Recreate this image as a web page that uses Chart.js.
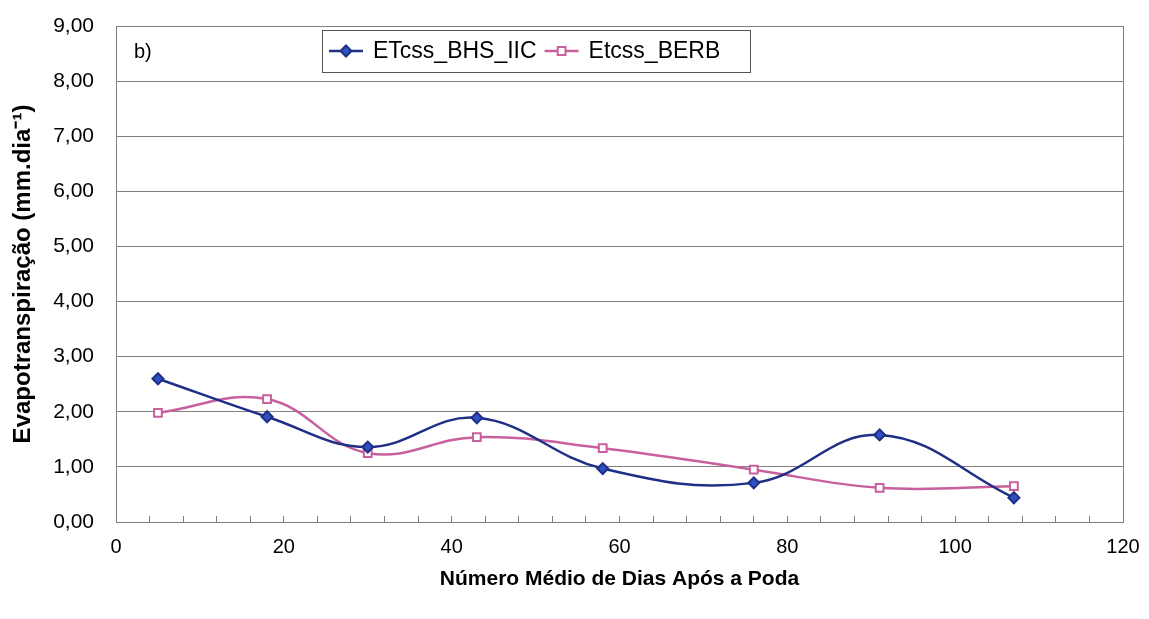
<!DOCTYPE html>
<html>
<head>
<meta charset="utf-8">
<title>Evapotranspiração</title>
<script src="https://cdn.jsdelivr.net/npm/chart.js@4.4.1/dist/chart.umd.min.js"></script>
<style>
  body { margin: 0; background: #fff; }
  #wrap { width: 1149px; height: 619px; }
</style>
</head>
<body>
<div id="wrap"><canvas id="etChart" width="1149" height="619"></canvas></div>
<script>
// dias apos a poda (eixo x) e ETcss de cada metodo (mm/dia)
const dias = [5, 18, 30, 43, 58, 76, 91, 107];
const etcssBhsIic = [2.60, 1.91, 1.36, 1.89, 0.97, 0.71, 1.58, 0.44];
const etcssBerb = [1.98, 2.23, 1.25, 1.54, 1.34, 0.95, 0.62, 0.65];
const seriesNames = ["ETcss_BHS_IIC", "Etcss_BERB"];
const xTickLabels = ["0", "20", "40", "60", "80", "100", "120"];
const yTickLabels = ["0,00", "1,00", "2,00", "3,00", "4,00", "5,00", "6,00", "7,00", "8,00", "9,00"];

const FONT = "'Liberation Sans', Arial, sans-serif";

function toPoints(xs, ys) {
  return xs.map((x, i) => ({ x: x, y: ys[i] }));
}

// moldura da area do grafico (topo e direita incluidos)
const plotBorder = {
  id: "plotBorder",
  beforeDatasetsDraw(chart) {
    const a = chart.chartArea;
    const ctx = chart.ctx;
    ctx.save();
    ctx.strokeStyle = "#808080";
    ctx.lineWidth = 1;
    ctx.strokeRect(Math.round(a.left) + 0.5, Math.round(a.top) + 0.5,
      Math.round(a.right - a.left), Math.round(a.bottom - a.top));
    ctx.restore();
  }
};

// legenda com caixa, dentro da area do grafico, e o rotulo "b)"
const boxLegend = {
  id: "boxLegend",
  afterDraw(chart) {
    const ctx = chart.ctx;
    const a = chart.chartArea;
    ctx.save();
    ctx.fillStyle = "#000";
    ctx.font = "20px " + FONT;
    ctx.textBaseline = "middle";
    ctx.fillText("b)", a.left + 18, a.top + 26);

    const bx = 322, by = 30, bw = 428, bh = 42;
    ctx.fillStyle = "#fff";
    ctx.fillRect(bx, by, bw, bh);
    ctx.strokeStyle = "#555";
    ctx.lineWidth = 1;
    ctx.strokeRect(bx + 0.5, by + 0.5, bw, bh);

    ctx.font = "23px " + FONT;
    let x = bx + 7;
    const cy = by + bh / 2;
    chart.data.datasets.forEach(ds => {
      ctx.strokeStyle = ds.borderColor;
      ctx.lineWidth = ds.borderWidth;
      ctx.beginPath();
      ctx.moveTo(x, cy);
      ctx.lineTo(x + 34, cy);
      ctx.stroke();
      ctx.fillStyle = ds.pointBackgroundColor;
      ctx.strokeStyle = ds.pointBorderColor;
      ctx.lineWidth = ds.pointBorderWidth;
      Chart.helpers.drawPoint(ctx, {
        pointStyle: ds.pointStyle, radius: ds.pointRadius, borderWidth: ds.pointBorderWidth, rotation: 0
      }, x + 17, cy);
      ctx.fillStyle = "#000";
      ctx.fillText(ds.label, x + 44, cy + 1);
      x += 44 + ctx.measureText(ds.label).width + 8;
    });
    ctx.restore();
  }
};

new Chart(document.getElementById("etChart"), {
  type: "line",
  data: {
    datasets: [
      {
        label: seriesNames[0],
        data: toPoints(dias, etcssBhsIic),
        borderColor: "#1f2f86",
        borderWidth: 2.5,
        pointStyle: "rectRot",
        pointRadius: 5.5,
        pointBackgroundColor: "#3050c0",
        pointBorderColor: "#1f2f86",
        pointBorderWidth: 2,
        tension: 0.4
      },
      {
        label: seriesNames[1],
        data: toPoints(dias, etcssBerb),
        borderColor: "#c8609e",
        borderWidth: 2.5,
        pointStyle: "rect",
        pointRadius: 5.5,
        pointBackgroundColor: "#fff",
        pointBorderColor: "#c8609e",
        pointBorderWidth: 2,
        tension: 0.4
      }
    ]
  },
  options: {
    responsive: false,
    animation: false,
    layout: { padding: { top: 26, right: 26, left: 0, bottom: 0 } },
    plugins: {
      legend: { display: false },
      tooltip: { enabled: false }
    },
    scales: {
      x: {
        type: "linear",
        min: 0,
        max: 120,
        afterFit: s => { s.height = 97; s.paddingLeft = 0; s.paddingRight = 0; },
        grid: { drawOnChartArea: false, drawTicks: true, tickLength: -6, color: "#808080" },
        border: { color: "#808080", width: 1 },
        ticks: {
          stepSize: 4,
          autoSkip: false,
          maxRotation: 0,
          padding: 19,
          color: "#000",
          font: { family: FONT, size: 20 },
          callback: v => (v % 20 === 0 ? xTickLabels[v / 20] : "")
        },
        title: {
          display: true,
          text: "Número Médio de Dias Após a Poda",
          color: "#000",
          font: { family: FONT, size: 21, weight: "bold" },
          padding: { top: 0, bottom: 27 }
        }
      },
      y: {
        min: 0,
        max: 9,
        afterFit: s => { s.width = 116; s.paddingTop = 0; s.paddingBottom = 0; },
        grid: { color: "#808080", drawTicks: false },
        border: { color: "#808080", width: 1 },
        ticks: {
          stepSize: 1,
          padding: 22,
          color: "#000",
          font: { family: FONT, size: 21 },
          callback: v => yTickLabels[v]
        },
        title: {
          display: true,
          text: "Evapotranspiração (mm.dia⁻¹)",
          color: "#000",
          font: { family: FONT, size: 24, weight: "bold" },
          padding: { top: 9, bottom: 0 }
        }
      }
    }
  },
  plugins: [plotBorder, boxLegend]
});
</script>
</body>
</html>
